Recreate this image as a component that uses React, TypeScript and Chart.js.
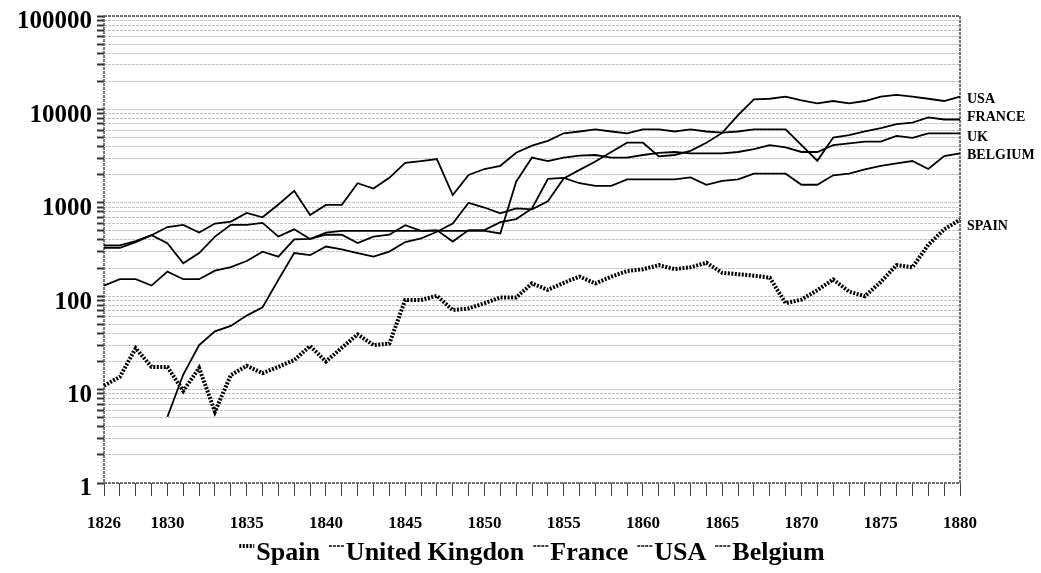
import React, { useEffect, useRef } from "react";
import { Chart, registerables } from "chart.js";

Chart.register(...registerables);

// Years on the category axis
const years = [
  "1826", "1827", "1828", "1829", "1830", "1831", "1832", "1833", "1834", "1835",
  "1836", "1837", "1838", "1839", "1840", "1841", "1842", "1843", "1844", "1845",
  "1846", "1847", "1848", "1849", "1850", "1851", "1852", "1853", "1854", "1855",
  "1856", "1857", "1858", "1859", "1860", "1861", "1862", "1863", "1864", "1865",
  "1866", "1867", "1868", "1869", "1870", "1871", "1872", "1873", "1874", "1875",
  "1876", "1877", "1878", "1879", "1880",
];

// Years that carry a printed tick label
const labelledYears = ["1826", "1830", "1835", "1840", "1845", "1850", "1855", "1860", "1865", "1870", "1875", "1880"];

const spain = [
  11, 13.7, 27.7, 17.5, 17.5, 9.7, 17, 5.8, 14.3, 18,
  15, 17.5, 20.7, 29.3, 20, 28, 39, 30, 31, 91,
  91, 101, 71, 74, 84, 97, 97, 137, 117, 139,
  162, 137, 162, 186, 194, 215, 195, 204, 228, 178,
  172, 166, 158, 84, 92, 116, 151, 112, 100, 142,
  215, 204, 355, 520, 660,
];

const unitedKingdom = [
  330, 330, 380, 450, 370, 225, 290, 435, 580, 580,
  610, 435, 520, 410, 480, 500, 500, 500, 500, 500,
  500, 500, 500, 500, 500, 470, 1680, 3050, 2800, 3050,
  3200, 3250, 3050, 3050, 3250, 3430, 3500, 3380, 3380, 3380,
  3500, 3750, 4150, 3920, 3500, 3500, 4150, 4330, 4520, 4520,
  5200, 4950, 5550, 5550, 5550,
];

const france = [
  350, 350, 390, 450, 550, 580, 480, 600, 630, 780,
  700, 960, 1340, 740, 950, 950, 1620, 1420, 1850, 2670,
  2800, 2940, 1210, 1990, 2300, 2490, 3430, 4100, 4600, 5550,
  5800, 6100, 5800, 5550, 6100, 6100, 5800, 6100, 5800, 5650,
  5800, 6100, 6100, 6100, 4150, 2820, 5000, 5300, 5800, 6300,
  6950, 7200, 8200, 7800, 7800,
];

const usa = [
  null, null, null, null, 5.1, 14.5, 30, 42, 48, 62,
  76, 150, 290, 275, 340, 317, 290, 265, 300, 380,
  415, 490, 600, 1000, 890, 770, 870, 850, 1040, 1820,
  2250, 2770, 3500, 4400, 4400, 3140, 3250, 3600, 4400, 5600,
  8700, 12800, 13000, 13700, 12500, 11600, 12300, 11600, 12300, 13700,
  14300, 13700, 13000, 12300, 13700,
];

const belgium = [
  130, 152, 152, 130, 183, 152, 152, 188, 205, 238,
  300, 265, 405, 410, 455, 455, 370, 435, 455, 575,
  500, 510, 385, 510, 510, 620, 670, 870, 1800, 1850,
  1620, 1520, 1520, 1780, 1780, 1780, 1780, 1870, 1560, 1720,
  1780, 2050, 2050, 2050, 1560, 1560, 1970, 2050, 2280, 2490,
  2650, 2800, 2300, 3170, 3380,
];

const seriesNames = ["Spain", "United Kingdon", "France", "USA", "Belgium"];
const endLabels = ["SPAIN", "UK", "FRANCE", "USA", "BELGIUM"];

// Log axis: grid lines at 1..9 of every decade, numbers only on powers of ten
const decades = [1, 10, 100, 1000, 10000];
const multipliers = [1, 2, 3, 4, 5, 6, 7, 8, 9];
const axisMax = 100000;

const SERIF = "'Liberation Serif', 'Times New Roman', serif";

// Vertical nudges for the series names written beside the last point
const endLabelNudge = [7, 4, -2, 3, 2];

const frameAndLabels = {
  id: "frameAndLabels",
  beforeDatasetsDraw(chart: any) {
    const { ctx, chartArea: a } = chart;
    ctx.save();
    ctx.strokeStyle = "#4a4a4a";
    ctx.lineWidth = 1.5;
    ctx.setLineDash([3, 1]);
    ctx.strokeRect(a.left, a.top, a.right - a.left, a.bottom - a.top);
    ctx.restore();
  },
  afterDatasetsDraw(chart: any) {
    const { ctx, chartArea: a, scales } = chart;
    ctx.save();
    ctx.fillStyle = "#000";
    ctx.font = `bold 14px ${SERIF}`;
    ctx.textBaseline = "middle";
    ctx.textAlign = "left";
    chart.data.datasets.forEach((ds: any, i: number) => {
      const data = ds.data;
      const last = data[data.length - 1];
      const y = scales.y.getPixelForValue(last) + endLabelNudge[i];
      ctx.fillText(endLabels[i], a.right + 7, y);
    });
    ctx.restore();
  },
  afterDraw(chart: any) {
    // Legend row under the axis
    const { ctx, chartArea: a } = chart;
    ctx.save();
    ctx.font = `bold 26px ${SERIF}`;
    ctx.textBaseline = "middle";
    ctx.textAlign = "left";
    const markerW = 15;
    const afterMarker = 2;
    const between = 9;
    const widths = seriesNames.map((t) => ctx.measureText(t).width);
    const total =
      widths.reduce((s, w) => s + w, 0) +
      seriesNames.length * (markerW + afterMarker) +
      (seriesNames.length - 1) * between;
    let x = (a.left + a.right) / 2 - total / 2;
    const y = 553;
    chart.data.datasets.forEach((ds: any, i: number) => {
      ctx.save();
      ctx.strokeStyle = ds.borderColor;
      ctx.lineWidth = i === 0 ? 4 : 1.5;
      ctx.setLineDash(ds.borderDash || [3, 1]);
      ctx.beginPath();
      ctx.moveTo(x, y - 7);
      ctx.lineTo(x + markerW, y - 7);
      ctx.stroke();
      ctx.restore();
      x += markerW + afterMarker;
      ctx.fillStyle = "#000";
      ctx.fillText(seriesNames[i], x, y);
      x += widths[i] + between;
    });
    ctx.restore();
  },
};

export default function App() {
  const canvasRef = useRef<HTMLCanvasElement | null>(null);

  useEffect(() => {
    const canvas = canvasRef.current;
    if (!canvas) return;

    const gridValues: number[] = [];
    decades.forEach((d) => multipliers.forEach((m) => gridValues.push(d * m)));
    gridValues.push(axisMax);

    const lineStyle = {
      borderColor: "#000",
      backgroundColor: "#000",
      borderWidth: 1.8,
      pointRadius: 0,
      tension: 0,
      fill: false,
      spanGaps: false,
    };

    const chart = new Chart(canvas, {
      type: "line",
      data: {
        labels: years,
        datasets: [
          { ...lineStyle, label: seriesNames[0], data: spain, borderWidth: 4, borderDash: [2, 1.5] },
          { ...lineStyle, label: seriesNames[1], data: unitedKingdom },
          { ...lineStyle, label: seriesNames[2], data: france },
          { ...lineStyle, label: seriesNames[3], data: usa },
          { ...lineStyle, label: seriesNames[4], data: belgium },
        ],
      },
      options: {
        animation: false,
        responsive: false,
        devicePixelRatio: 1,
        layout: { padding: { top: 16, right: 81, bottom: 38, left: 0 } },
        plugins: {
          legend: { display: false },
          tooltip: { enabled: false },
        },
        scales: {
          x: {
            type: "category",
            offset: false,
            grid: {
              offset: false,
              drawOnChartArea: false,
              drawTicks: true,
              tickLength: 13,
              tickColor: "#444",
              tickWidth: 1,
            },
            border: { display: false },
            ticks: {
              autoSkip: false,
              maxRotation: 0,
              minRotation: 0,
              padding: 17,
              color: "#000",
              font: { family: SERIF, size: 17, weight: "bold" },
              callback: (_v: any, index: number) =>
                labelledYears.includes(years[index]) ? years[index] : "",
            },
            afterFit: (scale: any) => {
              scale.height = 52;
              scale.paddingLeft = 0;
              scale.paddingRight = 0;
            },
          },
          y: {
            type: "logarithmic",
            min: 1,
            max: axisMax,
            grid: {
              color: "#c4c4c4",
              lineWidth: 1,
              drawTicks: true,
              tickLength: 7,
              tickColor: "#333",
              tickWidth: 2,
              tickBorderDash: [],
            },
            border: { display: false, dash: [3, 1] },
            afterBuildTicks: (scale: any) => {
              scale.ticks = gridValues.map((v) => ({ value: v }));
            },
            ticks: {
              autoSkip: false,
              padding: 5,
              labelOffset: 6,
              color: "#000",
              font: { family: SERIF, size: 25, weight: "bold" },
              callback: (value: any) => {
                const v = Number(value);
                return decades.includes(v) || v === axisMax ? String(v) : "";
              },
            },
            afterFit: (scale: any) => {
              scale.width = 104;
              scale.paddingTop = 0;
              scale.paddingBottom = 0;
            },
          },
        },
      },
      plugins: [frameAndLabels],
    });

    return () => chart.destroy();
  }, []);

  return (
    <div style={{ position: "fixed", left: 0, top: 0, width: 1041, height: 573, background: "#fff" }}>
      <canvas ref={canvasRef} width={1041} height={573} style={{ display: "block" }} />
    </div>
  );
}
